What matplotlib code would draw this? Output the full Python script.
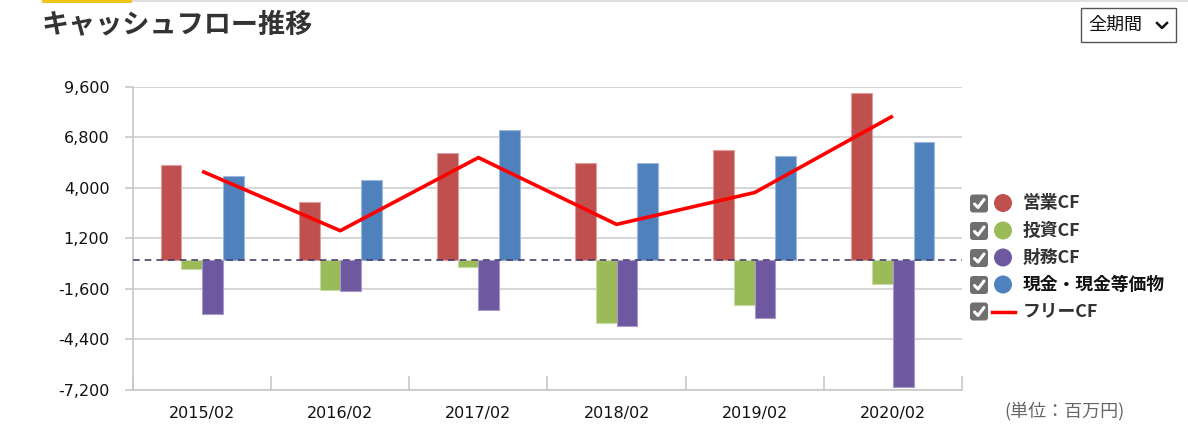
import matplotlib
matplotlib.use("Agg")
import matplotlib.pyplot as plt
import numpy as np
from matplotlib.patches import FancyBboxPatch, Circle, Rectangle

plt.rcParams['font.family'] = ['Noto Sans CJK JP', 'DejaVu Sans']

years = ["2015/02", "2016/02", "2017/02", "2018/02", "2019/02", "2020/02"]
operating_cf = [5290, 3220, 5950, 5400, 6120, 9280]
investing_cf = [-525, -1670, -415, -3520, -2520, -1340]
financing_cf = [-3000, -1745, -2800, -3680, -3240, -7060]
cash_eq = [4640, 4460, 7230, 5400, 5790, 6550]
free_cf = [4920, 1620, 5680, 1970, 3740, 7990]
y_ticks = [-7200, -4400, -1600, 1200, 4000, 6800, 9600]

series_names = ["営業CF", "投資CF", "財務CF", "現金・現金等価物"]
colors = ["#C0504D", "#9BBB59", "#6E58A0", "#4F81BD"]
edges = ["#DDA09E", "#C6DBA4", "#A899C8", "#9DB8DA"]

W, H = 1188, 429
fig = plt.figure(figsize=(W / 100, H / 100), dpi=100)

ax = fig.add_axes([133 / W, (H - 389.5) / H, (962 - 133) / W, (389.5 - 87) / H])
x = np.arange(len(years))
bw = 0.15
for i, (vals, c, ec) in enumerate(zip([operating_cf, investing_cf, financing_cf, cash_eq], colors, edges)):
    ax.bar(x + (i - 1.5) * bw, vals, width=bw, color=c, edgecolor=ec, linewidth=0.8, zorder=3)
ax.plot(x, free_cf, color="#FF0000", lw=2.6, zorder=4, solid_capstyle='butt')
ax.axhline(0, color="#4B3F6B", lw=1.2, dashes=(4, 3), zorder=5)

ax.set_xlim(-0.5, len(years) - 0.5)
ax.set_ylim(-7200, 9600)
ax.set_yticks(y_ticks)
ax.set_yticklabels([f"{v:,}" for v in y_ticks], family=['DejaVu Sans'])
ax.grid(axis='y', color="#D0D0D0", lw=1.2, zorder=0)
ax.set_xticks(x)
ax.set_xticklabels(years, family=['DejaVu Sans'])
ax.set_xticks(np.arange(-0.5, len(years)), minor=True)
ax.tick_params(axis='x', which='major', length=0, pad=12, labelsize=11.5, labelcolor="#111111")
ax.tick_params(axis='x', which='minor', length=10, direction='in', color="#C8C8C8", width=1.2)
ax.tick_params(axis='y', length=6, color="#C8C8C8", width=1.2, pad=11, labelsize=11.5, labelcolor="#111111")
for s in ['top', 'right']:
    ax.spines[s].set_visible(False)
for s in ['left', 'bottom']:
    ax.spines[s].set_color("#C8C8C8")
    ax.spines[s].set_linewidth(1.2)

# overlay in pixel coords
ov = fig.add_axes([0, 0, 1, 1], zorder=10)
ov.set_xlim(0, W)
ov.set_ylim(H, 0)
ov.axis('off')
ov.patch.set_alpha(0)

ov.add_patch(Rectangle((42, 0), 90, 2.5, color="#F0C419", lw=0))
ov.add_patch(Rectangle((132, 0), W - 132, 1.5, color="#E0E0E0", lw=0))
ov.text(42, 25, "キャッシュフロー推移", fontsize=19.5, fontweight='bold', color="#333333",
        va='center', ha='left')

# dropdown
ov.add_patch(Rectangle((1081, 8), 95, 34, facecolor="white", edgecolor="#555555", lw=1))
ov.text(1088, 24.5, "全期間", fontsize=13, color="#111111", va='center', ha='left')
ov.plot([1157, 1162, 1167], [23, 28, 23], color="#111111", lw=1.8)

# legend
rows = [203.5, 231, 258, 285, 311.5]
labels = series_names + ["フリーCF"]
for k, (yc, lab) in enumerate(zip(rows, labels)):
    ov.add_patch(FancyBboxPatch((970, yc - 9), 18, 18, boxstyle="round,pad=0,rounding_size=3",
                                facecolor="#6F6F6F", edgecolor="none"))
    ov.plot([974.5, 978, 984], [yc + 0.5, yc + 4, yc - 4], color="white", lw=2.2,
            solid_capstyle='round', solid_joinstyle='round')
    if k < 4:
        ov.add_patch(Circle((1003, yc - 0.5), 9, color=colors[k], lw=0))
    else:
        ov.plot([992, 1015], [yc, yc], color="#FF0000", lw=2.5)
    ov.text(1023, yc, lab, fontsize=12.8, fontweight='bold', color="#333333" if k != 3 else "#111111",
            va='center', ha='left')

ov.text(1004, 411, "(単位：百万円)", fontsize=13, color="#666666", va='center', ha='left')

fig.savefig("out.png", dpi=100)
